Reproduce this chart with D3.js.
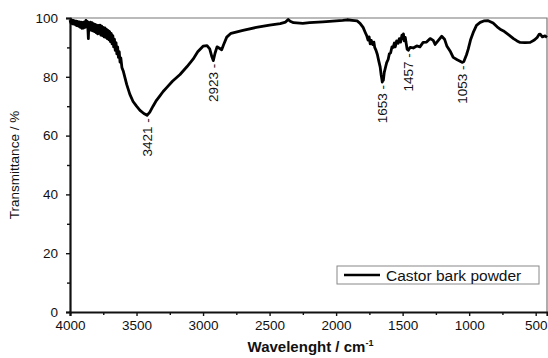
<!DOCTYPE html>
<html>
<head>
<meta charset="utf-8">
<script src="https://cdn.jsdelivr.net/npm/d3@7"></script>
<style>
  body { margin: 0; background: #fff; }
  svg { display: block; font-family: "Liberation Sans", Arial, sans-serif; }
</style>
</head>
<body>
<div id="chart"></div>
<script>
// FTIR spectrum, values
const wavenumber = [
  4000, 3994, 3988, 3982, 3976, 3970, 3964, 3958, 3952, 3946, 3940, 3934, 3928, 3922, 3916,
  3910, 3904, 3898, 3892, 3886, 3880, 3874, 3868, 3862, 3858, 3852, 3846, 3840, 3834, 3828,
  3822, 3816, 3810, 3804, 3798, 3792, 3786, 3780, 3774, 3768, 3762, 3756, 3750, 3744, 3738,
  3732, 3726, 3720, 3714, 3708, 3702, 3696, 3690, 3684, 3678, 3672, 3666, 3660, 3654, 3648,
  3642, 3636, 3630, 3624, 3618, 3610, 3600, 3574, 3550, 3526, 3500, 3474, 3445, 3421, 3400,
  3376, 3350, 3323, 3300, 3270, 3230, 3173, 3120, 3075, 3040, 3000, 2970, 2950, 2935, 2923,
  2910, 2895, 2880, 2860, 2845, 2822, 2790, 2700, 2600, 2500, 2420, 2380, 2360, 2345, 2320,
  2250, 2200, 2100, 2000, 1950, 1917, 1880, 1842, 1820, 1797, 1780, 1770, 1760, 1752, 1744,
  1736, 1725, 1716, 1710, 1700, 1690, 1680, 1669, 1662, 1656, 1653, 1649, 1645, 1638, 1630,
  1620, 1609, 1600, 1590, 1580, 1571, 1562, 1555, 1545, 1534, 1525, 1515, 1505, 1500, 1494,
  1488, 1480, 1475, 1466, 1457, 1444, 1420, 1394, 1370, 1346, 1320, 1293, 1270, 1256, 1230,
  1206, 1185, 1168, 1140, 1120, 1090, 1068, 1053, 1040, 1020, 1007, 990, 970, 945, 917,
  890, 857, 820, 790, 760, 742, 700, 667, 640, 617, 580, 541, 510, 489, 475,
  466, 450, 430, 415
];
const transmittance = [
  99.3, 98.4, 99.4, 98.0, 99.2, 97.9, 99.0, 97.6, 98.9, 97.4, 98.8, 97.2, 98.7, 96.8, 98.6,
  96.5, 98.5, 96.6, 98.7, 96.8, 99.2, 97.0, 98.8, 93.0, 98.4, 96.2, 98.6, 95.8, 98.4, 95.6,
  98.0, 95.4, 97.8, 95.0, 97.6, 94.6, 97.5, 94.8, 97.6, 94.2, 97.2, 94.0, 96.8, 93.6, 96.6,
  93.4, 96.2, 93.0, 95.8, 92.6, 95.4, 92.0, 94.8, 91.2, 94.0, 90.2, 92.8, 89.0, 91.6, 87.8,
  90.2, 86.6, 88.6, 85.0, 86.4, 83.2, 82.0, 77.4, 74.0, 71.6, 70.0, 68.6, 67.5, 66.9, 68.0,
  70.0, 72.0, 73.6, 75.0, 76.5, 78.5, 80.8, 83.5, 86.0, 88.5, 90.4, 90.6, 89.5, 87.0, 85.5,
  88.0, 90.2, 89.8, 89.2, 91.0, 93.5, 94.8, 95.8, 96.8, 97.6, 98.1, 98.6, 99.5, 98.9, 98.4,
  98.2, 98.4, 98.7, 99.0, 99.2, 99.4, 99.2, 99.0, 98.2, 96.8, 95.0, 94.0, 92.5, 93.6, 91.2,
  92.4, 91.0, 91.8, 90.0, 89.0, 87.6, 85.5, 83.4, 80.8, 79.2, 78.2, 79.6, 78.8, 81.5, 83.0,
  84.8, 85.9, 87.8, 88.2, 90.2, 90.0, 91.5, 90.2, 92.2, 91.4, 93.0, 91.8, 94.2, 93.0, 94.6,
  92.2, 93.4, 91.8, 89.4, 89.0, 90.0, 89.8, 90.5, 90.2, 91.7, 91.8, 93.0, 92.4, 91.0, 92.5,
  93.8, 92.8, 90.5, 88.5, 86.6, 85.8, 85.3, 84.9, 85.2, 87.5, 89.4, 92.5, 95.0, 97.5, 98.5,
  99.0, 99.1, 98.3, 97.0, 96.0, 95.6, 94.2, 93.0, 92.2, 91.7, 91.6, 91.7, 92.5, 93.4, 94.4,
  94.5, 93.6, 93.9, 93.4
];
const peakLabels = [3421, 2923, 1653, 1457, 1053];
const xTickValues = [4000, 3500, 3000, 2500, 2000, 1500, 1000, 500];
const xMinorTicks = [3750, 3250, 2750, 2250, 1750, 1250, 750];
const yTickValues = [0, 20, 40, 60, 80, 100];
const yMinorTicks = [10, 30, 50, 70, 90];
const seriesName = "Castor bark powder";

const width = 548, height = 358;
const margin = { top: 18, right: 1, bottom: 46, left: 70 };

const svg = d3.select("#chart").append("svg")
    .attr("width", width)
    .attr("height", height);

const x = d3.scaleLinear()
    .domain([4000, 415])
    .range([margin.left, width - margin.right]);

const y = d3.scaleLinear()
    .domain([0, 100])
    .range([height - margin.bottom, margin.top]);

const data = wavenumber.map((w, i) => ({ w, t: transmittance[i] }));

// frame (top / right) in grey
svg.append("path")
    .attr("d", `M${x(4000)},${y(100)}H${x(415)}V${y(0)}`)
    .attr("fill", "none")
    .attr("stroke", "#777")
    .attr("stroke-width", 1.2);

// x axis
svg.append("g")
    .attr("transform", `translate(0,${y(0)})`)
    .call(d3.axisBottom(x).tickValues(xTickValues).tickSize(4).tickPadding(4).tickFormat(d3.format("d")));
svg.append("g")
    .attr("transform", `translate(0,${y(0)})`)
    .call(d3.axisBottom(x).tickValues(xMinorTicks).tickSize(3).tickFormat(""))
    .call(g => g.select(".domain").remove());

// y axis
svg.append("g")
    .attr("transform", `translate(${x(4000)},0)`)
    .call(d3.axisLeft(y).tickValues(yTickValues).tickSize(4).tickPadding(8));
svg.append("g")
    .attr("transform", `translate(${x(4000)},0)`)
    .call(d3.axisLeft(y).tickValues(yMinorTicks).tickSize(3).tickFormat(""))
    .call(g => g.select(".domain").remove());

svg.selectAll(".domain").attr("stroke", "#111").attr("stroke-width", 2.2);
svg.selectAll(".tick line").attr("stroke", "#111").attr("stroke-width", 1.4);
svg.selectAll(".tick text")
    .attr("fill", "#111")
    .style("font-size", "13.5px")
    .style("font-family", "Liberation Sans, Arial, sans-serif");

// spectrum
const line = d3.line()
    .x(d => x(d.w))
    .y(d => y(d.t));

svg.append("path")
    .datum(data)
    .attr("fill", "none")
    .attr("stroke", "#000")
    .attr("stroke-width", 2.8)
    .attr("stroke-linejoin", "round")
    .attr("d", line);

// peak labels (rotated, below each band)
const peaks = peakLabels.map(p => data.find(d => d.w === p));
svg.selectAll(".peak")
    .data(peaks)
    .join("text")
    .attr("class", "peak")
    .attr("transform", d => `translate(${x(d.w)},${y(d.t) + 3}) rotate(-90)`)
    .attr("text-anchor", "end")
    .attr("dy", "0.36em")
    .attr("fill", "#111")
    .style("font-size", "13.5px")
    .text(d => d.w + " -");

// axis titles
svg.append("text")
    .attr("transform", `translate(19,${(y(0) + y(100)) / 2}) rotate(-90)`)
    .attr("text-anchor", "middle")
    .attr("fill", "#111")
    .style("font-size", "13.5px")
    .text("Transmittance / %");

const xTitle = svg.append("text")
    .attr("x", (x(4000) + x(415)) / 2 + 2)
    .attr("y", 352)
    .attr("text-anchor", "middle")
    .attr("fill", "#111")
    .style("font-size", "15px")
    .style("font-weight", "bold");
xTitle.append("tspan").text("Wavelenght / cm");
xTitle.append("tspan").attr("dy", -6).style("font-size", "9px").text("-1");

// legend
const legend = svg.append("g").attr("transform", `translate(337,266)`);
legend.append("rect")
    .attr("width", 202)
    .attr("height", 18)
    .attr("fill", "#fff")
    .attr("stroke", "#888")
    .attr("stroke-width", 1);
legend.append("line")
    .attr("x1", 7).attr("x2", 43)
    .attr("y1", 9).attr("y2", 9)
    .attr("stroke", "#000")
    .attr("stroke-width", 2.5);
legend.append("text")
    .attr("x", 49)
    .attr("y", 14.5)
    .attr("fill", "#111")
    .style("font-size", "15.5px")
    .text(seriesName);
</script>
</body>
</html>
